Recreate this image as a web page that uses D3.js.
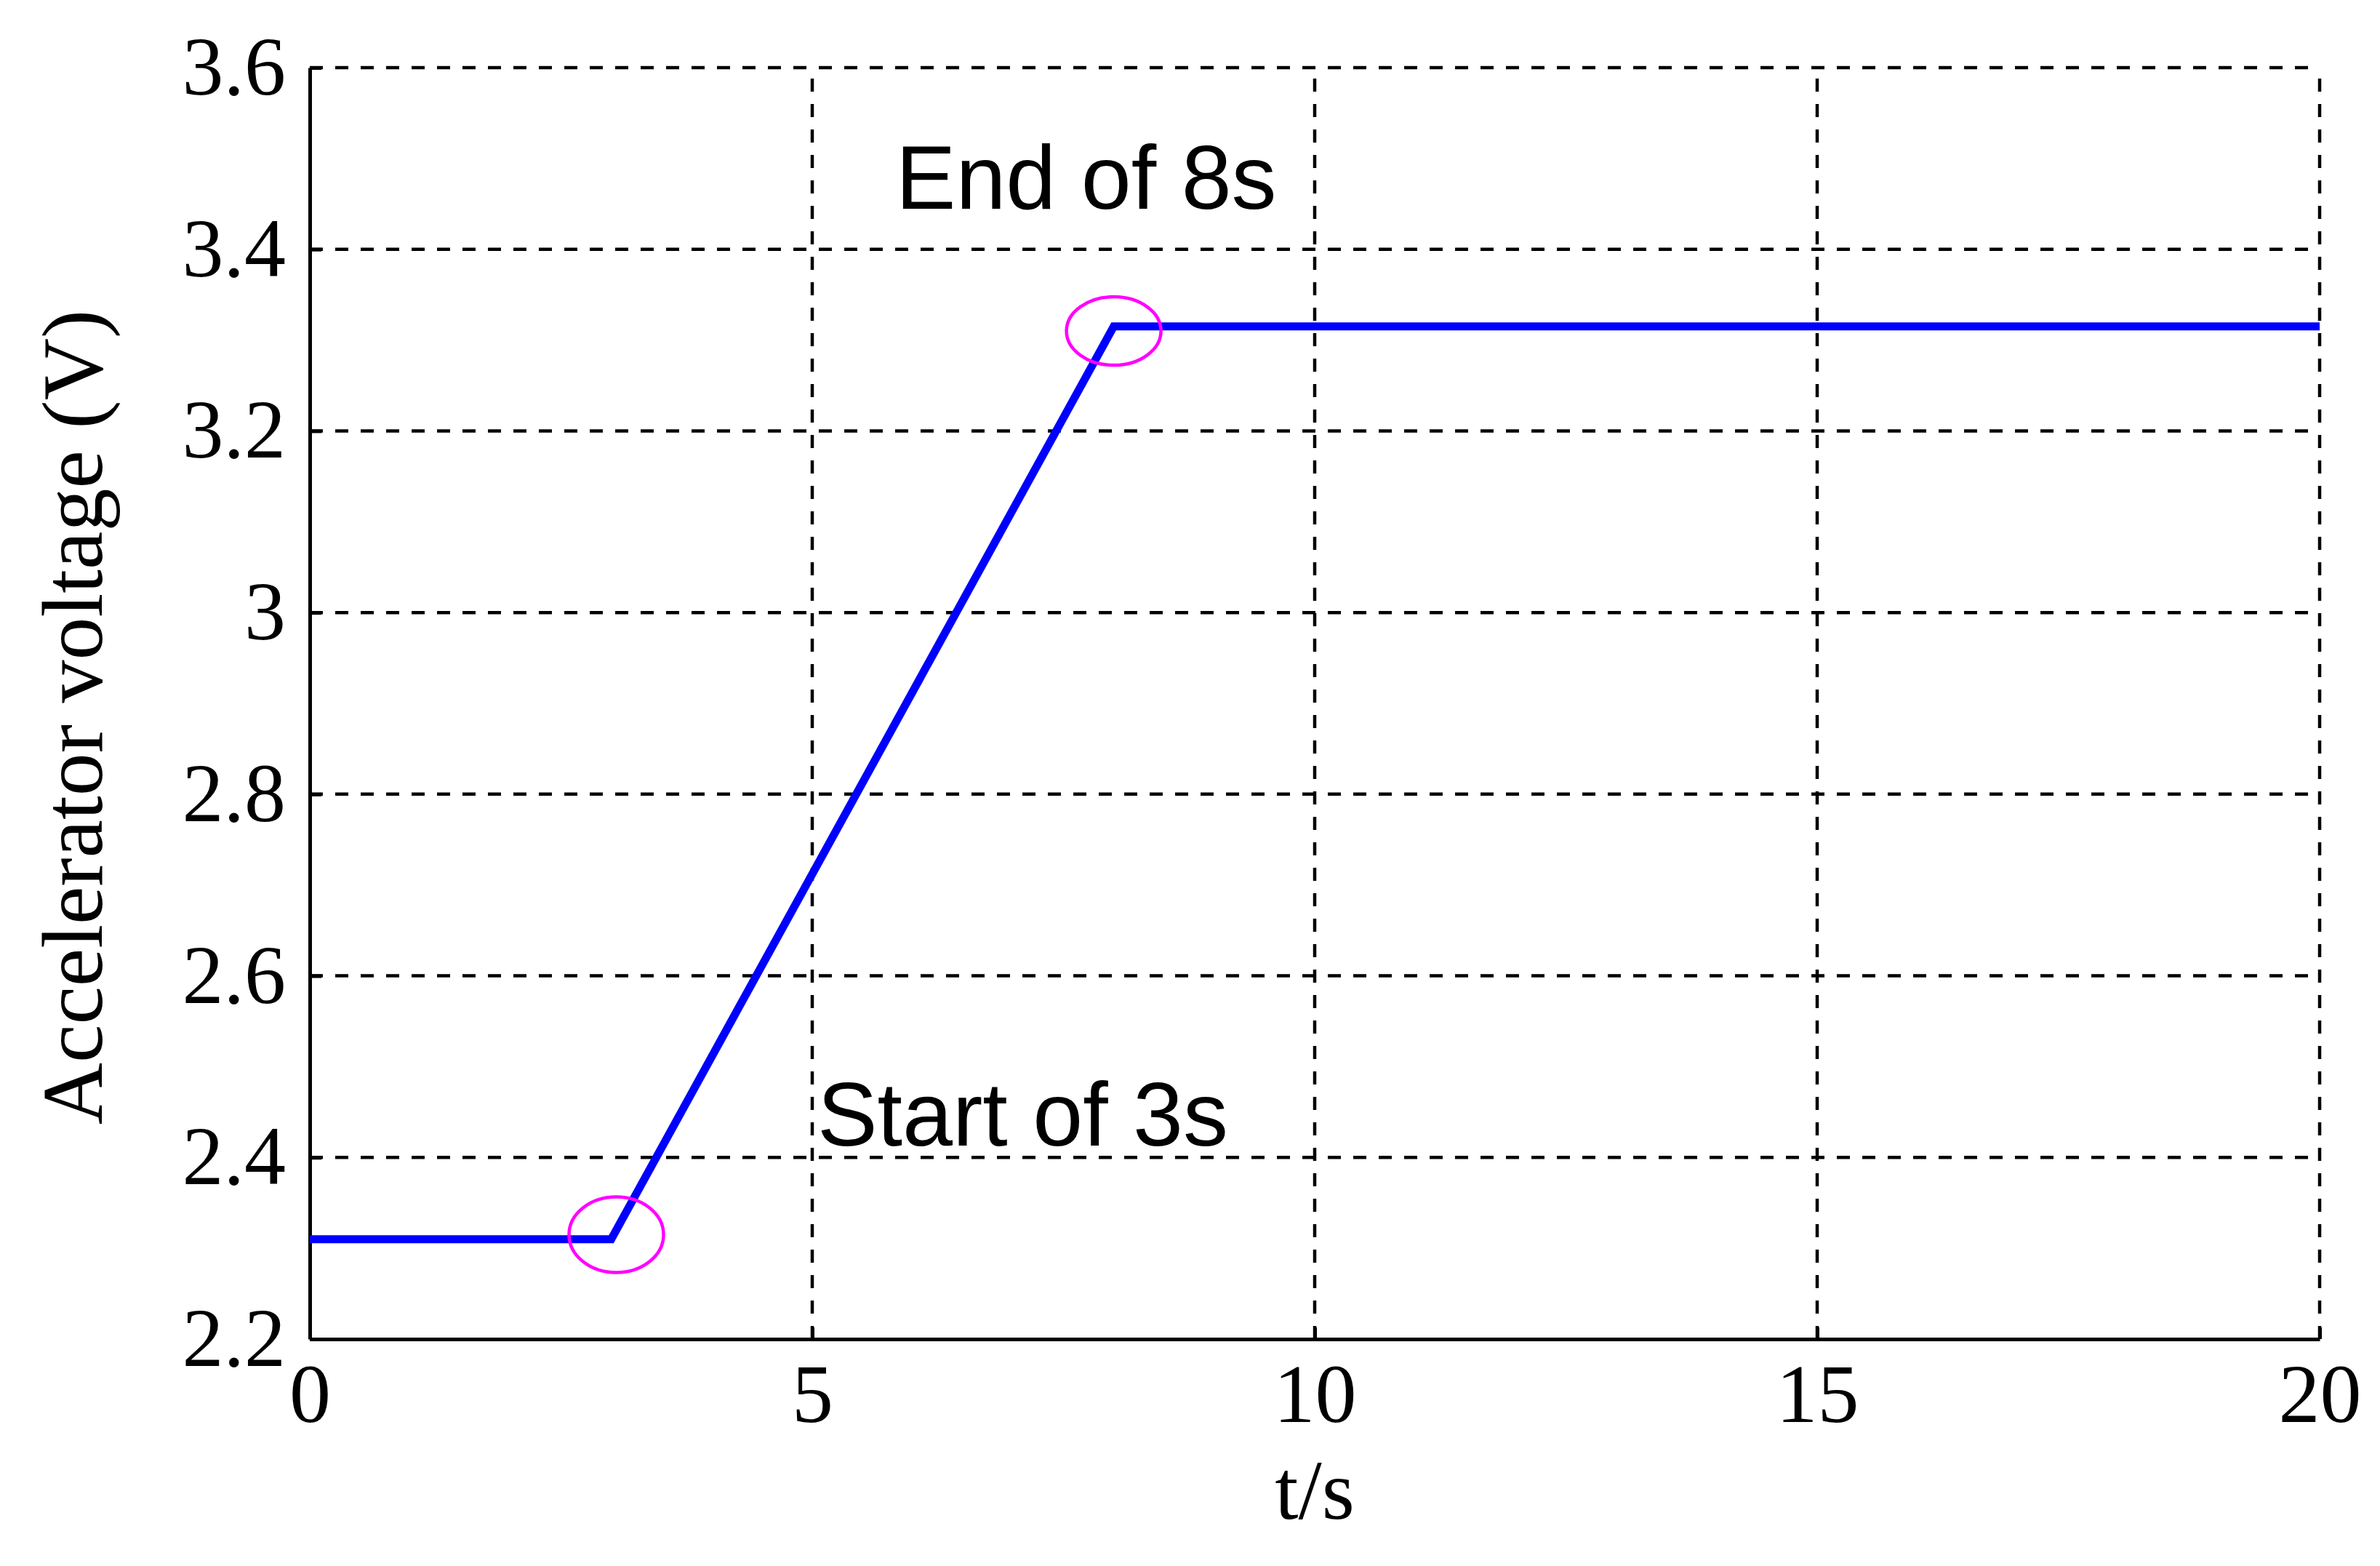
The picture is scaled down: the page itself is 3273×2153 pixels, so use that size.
<!DOCTYPE html>
<html>
<head>
<meta charset="utf-8">
<script src="https://cdnjs.cloudflare.com/ajax/libs/d3/7.8.5/d3.min.js"></script>
<style>
  body { margin: 0; background: #fff; }
  .axis text { font-family: "Liberation Serif", "DejaVu Serif", serif; font-size: 114px; fill: #000; }
  .axis path, .axis line { stroke: #000; stroke-width: 5; }
</style>
</head>
<body>
<div id="main"></div>
<script>
// data
var timeVals = [0, 3, 8, 20];
var voltVals = [2.31, 2.31, 3.315, 3.315];
var xTicks = [0, 5, 10, 15, 20];
var yTicks = [2.2, 2.4, 2.6, 2.8, 3, 3.2, 3.4, 3.6];
var markTimes = [3.05, 8.0];
var markVolts = [2.315, 3.31];
var noteTexts = ["End of 8s", "Start of 3s"];
var noteTimes = [5.83, 5.05];
var noteVolts = [3.445, 2.413];

var margin = {top: 93, right: 83, bottom: 312, left: 426},
    width = 3273 - margin.left - margin.right,
    height = 2153 - margin.top - margin.bottom;

var svg = d3.select("#main")
    .append("svg")
    .attr("width", 3273)
    .attr("height", 2153)
    .style("background", "#fff")
    .append("g")
    .attr("transform", "translate(" + margin.left + "," + margin.top + ")");

var xScale = d3.scaleLinear().domain([0, 20]).range([0, width]);
var yScale = d3.scaleLinear().domain([2.2, 3.6]).range([height, 0]);

// dashed grid
svg.append("g").selectAll("line")
    .data(yTicks.slice(1))
    .enter().append("line")
    .attr("x1", 0).attr("x2", width)
    .attr("y1", function(d) { return yScale(d); })
    .attr("y2", function(d) { return yScale(d); })
    .attr("stroke", "#000").attr("stroke-width", 4.5)
    .attr("stroke-dasharray", "18,17");

svg.append("g").selectAll("line")
    .data(xTicks.slice(1))
    .enter().append("line")
    .attr("y1", height).attr("y2", 0)
    .attr("x1", function(d) { return xScale(d); })
    .attr("x2", function(d) { return xScale(d); })
    .attr("stroke", "#000").attr("stroke-width", 4.5)
    .attr("stroke-dasharray", "18,17");

// axes
svg.append("g")
    .attr("class", "axis")
    .attr("transform", "translate(0," + height + ")")
    .call(d3.axisBottom(xScale).tickValues(xTicks).tickSize(-16).tickSizeOuter(0).tickPadding(33).tickFormat(d3.format("d")));

svg.append("g")
    .attr("class", "axis")
    .call(d3.axisLeft(yScale).tickValues(yTicks).tickSize(-16).tickSizeOuter(0).tickPadding(33).tickFormat(function(d) { return String(d); }));

// voltage line
var line = d3.line()
    .x(function(d, i) { return xScale(timeVals[i]); })
    .y(function(d) { return yScale(d); });

svg.append("path")
    .datum(voltVals)
    .attr("d", line)
    .attr("fill", "none")
    .attr("stroke", "#0000ff")
    .attr("stroke-width", 11)
    .attr("stroke-linejoin", "miter");

// magenta markers
svg.selectAll(".mark")
    .data(markTimes)
    .enter().append("ellipse")
    .attr("class", "mark")
    .attr("cx", function(d) { return xScale(d); })
    .attr("cy", function(d, i) { return yScale(markVolts[i]); })
    .attr("rx", 65)
    .attr("ry", function(d, i) { return i == 0 ? 52 : 47; })
    .attr("fill", "none")
    .attr("stroke", "#ff00ff")
    .attr("stroke-width", 4.5);

// annotations
svg.selectAll(".note")
    .data(noteTexts)
    .enter().append("text")
    .attr("class", "note")
    .attr("x", function(d, i) { return xScale(noteTimes[i]); })
    .attr("y", function(d, i) { return yScale(noteVolts[i]); })
    .style("font-family", "'Liberation Sans', Arial, sans-serif")
    .style("font-size", "124px")
    .text(function(d) { return d; });

// axis titles
svg.append("text")
    .attr("x", xScale(10))
    .attr("y", height + 247)
    .attr("text-anchor", "middle")
    .style("font-family", "'Liberation Serif', serif")
    .style("font-size", "116px")
    .text("t/s");

svg.append("text")
    .attr("transform", "translate(" + (140 - margin.left) + "," + (986 - margin.top) + ") rotate(-90)")
    .attr("text-anchor", "middle")
    .style("font-family", "'Liberation Serif', serif")
    .style("font-size", "118px")
    .text("Accelerator voltage (V)");
</script>
</body>
</html>
